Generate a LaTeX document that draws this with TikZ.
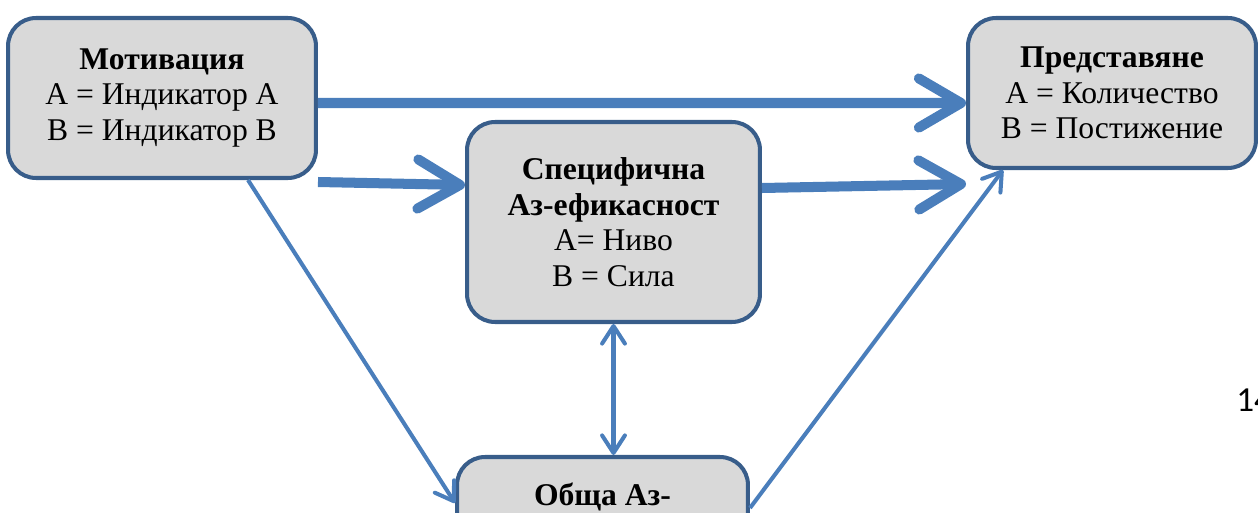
\documentclass[tikz,border=0pt]{standalone}
\usepackage{fontspec}
\setmainfont{Liberation Serif}
\newfontfamily\numfont{Carlito}
\usetikzlibrary{arrows.meta}
\definecolor{boxline}{HTML}{385D8A}
\definecolor{boxfill}{HTML}{D9D9D9}
\definecolor{arrowblue}{HTML}{4A7EBB}
\tikzset{
  blk/.style={draw=boxline,fill=boxfill,line width=2.3pt,rounded corners=0.56cm,
    align=center,inner sep=0pt,font=\fontsize{18}{20.2}\selectfont},
  fat/.style={draw=arrowblue,line width=5.7pt,-{Straight Barb[length=24pt,width=28pt,round]}},
  slim/.style={draw=arrowblue,line width=2.3pt,>={Straight Barb[length=10pt,width=13pt,round]}}
}

\begin{document}
\begin{tikzpicture}[x=0.02cm,y=-0.02cm]
\useasboundingbox (0,0) rectangle (1258,513);
\clip (0,0) rectangle (1258,513);
\node[blk,minimum width=6.16cm,minimum height=3.2cm] (mot) at (162,98)
  {\textbf{Мотивация}\\А = Индикатор А\\В = Индикатор В};
\node[blk,minimum width=5.76cm,minimum height=3.0cm] (pred) at (1112,93)
  {\textbf{Представяне}\\А = Количество\\В = Постижение};
\node[blk,minimum width=5.86cm,minimum height=4.0cm] (spec) at (613.5,222)
  {\textbf{Специфична}\\\textbf{Аз-ефикасност}\\А= Ниво\\В = Сила};
\node[blk,minimum width=5.82cm,minimum height=3.0cm] (obs) at (602.5,532) {};
\node[font=\fontsize{18}{20.2}\selectfont] (obstxt) at (602.5,497) {\textbf{Обща Аз-}};
\node[font=\numfont\fontsize{20}{24}\selectfont,anchor=west,inner sep=0pt] (pg) at (1236,400) {14};

\draw[fat] ([yshift=-0.1cm]mot.east) -- ([yshift=-0.2cm]pred.west);
\draw[fat] ([yshift=-0.04cm]mot.south east) -- ([yshift=0.74cm]spec.west);
\draw[fat] ([yshift=0.68cm]spec.east) -- ([yshift=-0.28cm]pred.south west);
\draw[slim,->] ([xshift=1.72cm]mot.south) -- ([yshift=-0.96cm]obs.north west);
\draw[slim,->] ([yshift=-1.06cm]obs.north east) -- ([xshift=0.74cm]pred.south west);
\draw[slim,<->] (spec.south) -- (spec.south |- obs.north);
\end{tikzpicture}
\end{document}
